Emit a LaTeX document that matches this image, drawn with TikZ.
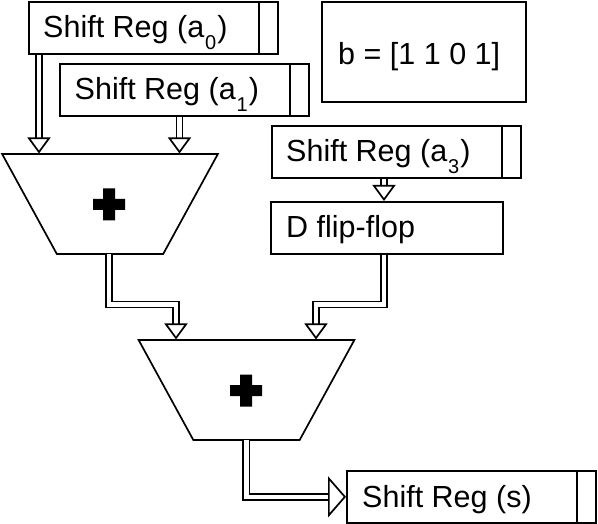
\documentclass[tikz,border=0pt]{standalone}
\usepackage{fontspec}
\setmainfont{Liberation Sans}
\usetikzlibrary{arrows.meta,shapes.geometric}
\newcommand{\subdigit}[1]{\kern1pt\raisebox{-12pt}{\fontsize{20}{20}\selectfont #1}\kern1pt}
\tikzset{
  boxnode/.style={draw=black,line width=1.7pt,fill=white,rectangle,inner sep=0pt,anchor=north west,minimum height=52pt},
  regbox/.style={boxnode,minimum width=249pt},
  divider/.style={line width=1.7pt},
  label/.style={inner sep=0pt,anchor=base west,font=\fontsize{30.5}{30.5}\selectfont},
  adder/.style={draw=black,line width=1.7pt,fill=white,trapezium,shape border rotate=180,trapezium stretches=true,
    trapezium angle=62.5,inner sep=0pt,minimum width=216pt,minimum height=100pt},
  bus/.style={line width=1.7pt,double=white,double distance=4.4pt,line join=miter},
  bushead/.style={-{Triangle[open,fill=white,length=16pt,width=23pt,line width=1.7pt]}},
  bigbushead/.style={-{Triangle[open,fill=white,length=18pt,width=41pt,line width=1.7pt]}},
  plussign/.style={fill=black,draw=none}
}
\newcommand{\plusat}[2]{\fill[plussign] (#1-6,#2-16) -- (#1+6,#2-16) -- (#1+6,#2-5.5) -- (#1+16,#2-5.5) -- (#1+16,#2+5.5) -- (#1+6,#2+5.5) -- (#1+6,#2+16) -- (#1-6,#2+16) -- (#1-6,#2+5.5) -- (#1-16,#2+5.5) -- (#1-16,#2-5.5) -- (#1-6,#2-5.5) -- cycle;}
\begin{document}
\begin{tikzpicture}[x=1pt,y=-1pt]
\useasboundingbox (0,0) rectangle (598,524);
% registers
\node[regbox] (a0) at (28,1.5) {};
\draw[divider] (259,1.5) -- (259,53.5);
\node[label] (a0t) at (43,38) {Shift Reg (a\subdigit{0})};
\node[regbox] (a1) at (59,63.5) {};
\draw[divider] (290,63.5) -- (290,115.5);
\node[label] (a1t) at (74.5,100) {Shift Reg (a\subdigit{1})};
\node[regbox] (a3) at (271,125) {};
\draw[divider] (502,125) -- (502,177);
\node[label] (a3t) at (286,162) {Shift Reg (a\subdigit{3})};
\node[boxnode,minimum width=232pt] (dff) at (270,201) {};
\node[label] (dfft) at (286,238) {D flip-flop};
\node[boxnode,minimum width=204pt,minimum height=100pt] (bbox) at (321,1) {};
\node[label] (bt) at (338,65) {b = [1 1 0 1]};
\node[regbox] (s) at (346,470) {};
\draw[divider] (577,470) -- (577,522);
\node[label] (st) at (362,507) {Shift Reg (s)};
% adders
\node[adder] (add1) at (110,204) {\phantom{+}};
\node[adder] (add2) at (246.5,390) {\phantom{+}};
\plusat{109}{204.5}
\plusat{246}{390.5}
% connectors
\draw[bus,bushead] (a0.south -| 39,0) -- (39,153.5);
\draw[bus,bushead] (a1.south -| 179.5,0) -- (179.5,153.5);
\draw[bus,bushead] (a3.south -| 384,0) -- (dff.north -| 384,0);
\draw[bus,bushead] (109,254) |- (176,304.5) -- (176,339.5);
\draw[bus,bushead] (dff.south -| 383.7,0) |- (316,304.5) -- (316,339.5);
\draw[bus,bigbushead] (246.3,440) |- (s.west);
\end{tikzpicture}
\end{document}
